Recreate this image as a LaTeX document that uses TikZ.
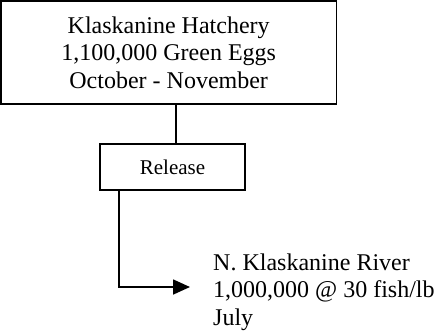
\documentclass[tikz,border=0pt]{standalone}
\usepackage{fontspec}
\setmainfont{Liberation Serif}
\usetikzlibrary{arrows.meta}

\begin{document}
\begin{tikzpicture}[x=1pt,y=1pt]
\tikzstyle{every node}+=[inner sep=0pt, font=\fontsize{24}{27.5}\selectfont]
\tikzstyle{box}=[draw=black, line width=1.8pt, align=center]
\useasboundingbox (0,0) rectangle (435,-330);
\draw (168.7,-52.5) node [box, minimum width=335.5, minimum height=103] (hatchery) {Klaskanine Hatchery\\1,100,000 Green Eggs\\October - November};
\draw (172.5,-167) node [box, minimum width=145, minimum height=46, font=\fontsize{21}{25}\selectfont] (release) {Release};
\draw (213,-292) node [anchor=west, align=left] (river) {N. Klaskanine River\\1,000,000 @ 30 fish/lb\\July};
\draw [black, line width=1.7pt] (hatchery.south -| 176,0) -- (release.north -| 176,0);
\draw [black, line width=1.7pt, -{Triangle[length=17pt,width=15pt]}, shorten >=23pt] (release.south -| 119,0) |- ([yshift=5pt]river.west);
\end{tikzpicture}
\end{document}
